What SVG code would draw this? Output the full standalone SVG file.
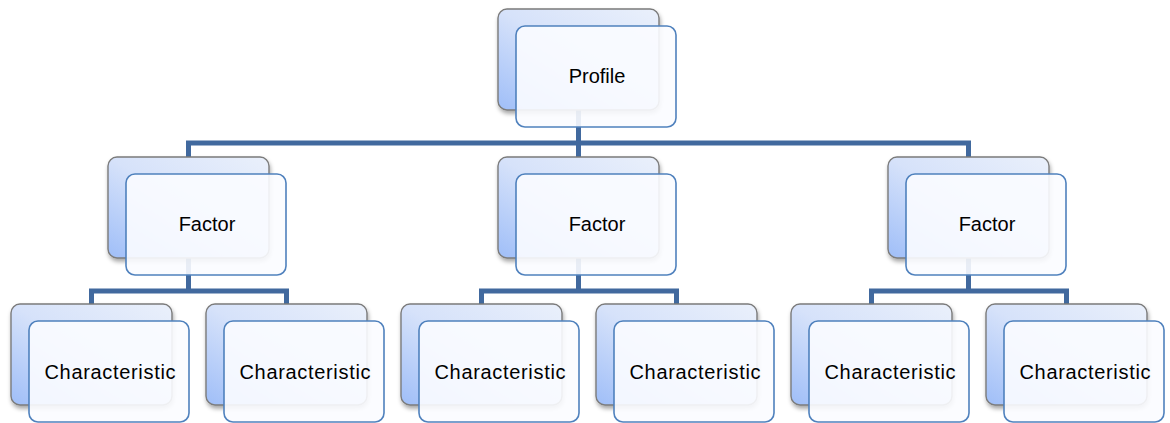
<svg xmlns="http://www.w3.org/2000/svg" width="1170" height="423" viewBox="0 0 1170 423">
<defs>
<linearGradient id="bg" x1="1" y1="0" x2="0" y2="1">
<stop offset="0" stop-color="#eaf0fb"/>
<stop offset="0.5" stop-color="#d6e2fa"/>
<stop offset="1" stop-color="#9fbef8"/>
</linearGradient>
<filter id="sh" x="-10%" y="-10%" width="125%" height="130%">
<feDropShadow dx="1" dy="3" stdDeviation="2" flood-color="#000" flood-opacity="0.35"/>
</filter>
</defs>
<style>
.back{fill:url(#bg);stroke:#7b7b7b;stroke-width:1.4;filter:url(#sh)}
.front{fill:#fbfcff;fill-opacity:0.9;stroke:#4f81bd;stroke-width:1.6}
.conn{fill:none;stroke:#41699e;stroke-width:5;stroke-linejoin:miter}
text{font-family:"Liberation Sans",Arial,sans-serif;font-size:20px;fill:#000;text-anchor:middle}
</style>
<rect width="1170" height="423" fill="#fff"/>
<g id="connectors">
<path class="conn" d="M578.5,110 V143"/>
<path class="conn" d="M188.5,157 V143 H968.5 V157"/>
<path class="conn" d="M578.5,143 V157"/>
<path class="conn" d="M188.5,258 V291"/>
<path class="conn" d="M91.5,304 V291 H286.5 V304"/>
<path class="conn" d="M578.5,258 V291"/>
<path class="conn" d="M481.5,304 V291 H676.5 V304"/>
<path class="conn" d="M968.5,258 V291"/>
<path class="conn" d="M871.5,304 V291 H1066.5 V304"/>
</g>
<g id="profile">
<rect class="back" x="498" y="9" width="161" height="101" rx="9"/>
<rect class="front" x="516" y="26" width="160" height="101" rx="9"/>
<text x="597" y="83">Profile</text>
</g>
<g id="factor1">
<rect class="back" x="108" y="157" width="161" height="101" rx="9"/>
<rect class="front" x="126" y="174" width="160" height="101" rx="9"/>
<text x="207" y="231">Factor</text>
</g>
<g id="factor2">
<rect class="back" x="498" y="157" width="161" height="101" rx="9"/>
<rect class="front" x="516" y="174" width="160" height="101" rx="9"/>
<text x="597" y="231">Factor</text>
</g>
<g id="factor3">
<rect class="back" x="888" y="157" width="161" height="101" rx="9"/>
<rect class="front" x="906" y="174" width="160" height="101" rx="9"/>
<text x="987" y="231">Factor</text>
</g>
<g id="char1">
<rect class="back" x="11" y="304" width="161" height="101" rx="9"/>
<rect class="front" x="29" y="321" width="160" height="101" rx="9"/>
<text x="110" y="379" textLength="131">Characteristic</text>
</g>
<g id="char2">
<rect class="back" x="206" y="304" width="161" height="101" rx="9"/>
<rect class="front" x="224" y="321" width="160" height="101" rx="9"/>
<text x="305" y="379" textLength="131">Characteristic</text>
</g>
<g id="char3">
<rect class="back" x="401" y="304" width="161" height="101" rx="9"/>
<rect class="front" x="419" y="321" width="160" height="101" rx="9"/>
<text x="500" y="379" textLength="131">Characteristic</text>
</g>
<g id="char4">
<rect class="back" x="596" y="304" width="161" height="101" rx="9"/>
<rect class="front" x="614" y="321" width="160" height="101" rx="9"/>
<text x="695" y="379" textLength="131">Characteristic</text>
</g>
<g id="char5">
<rect class="back" x="791" y="304" width="161" height="101" rx="9"/>
<rect class="front" x="809" y="321" width="160" height="101" rx="9"/>
<text x="890" y="379" textLength="131">Characteristic</text>
</g>
<g id="char6">
<rect class="back" x="986" y="304" width="161" height="101" rx="9"/>
<rect class="front" x="1004" y="321" width="160" height="101" rx="9"/>
<text x="1085" y="379" textLength="131">Characteristic</text>
</g>
</svg>
